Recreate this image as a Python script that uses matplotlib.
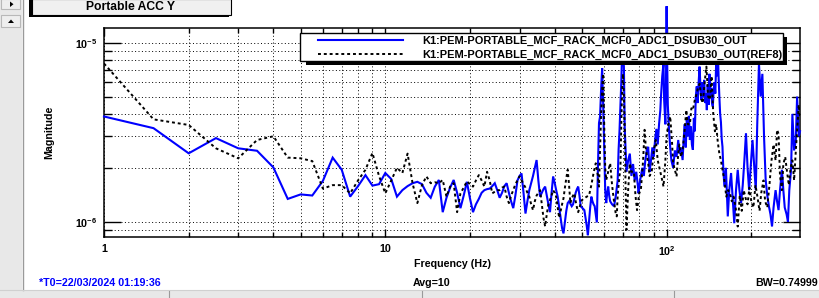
import numpy as np
import matplotlib
matplotlib.use('Agg')
import matplotlib.pyplot as plt
from matplotlib.patches import Rectangle, Polygon
from matplotlib.lines import Line2D
from matplotlib.ticker import FixedLocator, FixedFormatter, NullFormatter

plt.rcParams['font.family'] = ['Liberation Sans', 'DejaVu Sans']
plt.rcParams['font.weight'] = 'bold'
plt.rcParams['mathtext.fontset'] = 'custom'
plt.rcParams['mathtext.rm'] = 'Liberation Sans:bold'
plt.rcParams['mathtext.it'] = 'Liberation Sans:bold'
plt.rcParams['mathtext.bf'] = 'Liberation Sans:bold'

# ---------------- data (magnitudes in units of 1e-6) ----------------
freq_out = [1.0, 1.5, 2.0, 2.5, 3.0, 3.5, 4.0, 4.5, 5.0, 5.5, 6.0, 6.5, 7.0, 7.5, 8.0, 8.5, 9.0, 9.5,
            10.0, 10.5, 11.0, 11.5, 12.0, 12.5, 13.0, 13.5, 14.0, 14.5, 15.0, 15.5, 16.0, 16.5, 17.0,
            17.5, 18.0, 18.5, 19.0, 19.5, 20.0, 20.5, 21.0, 21.5, 22.0, 22.5, 23.0, 23.5, 24.0, 24.5,
            25.0, 25.5, 26.0, 26.5, 27.0, 27.5, 28.0, 28.5, 29.0, 29.5, 30.0, 30.5, 31.0, 31.5, 32.0,
            32.5, 33.0, 33.5, 34.0, 34.5, 35.0, 35.5, 36.0, 36.5, 37.0, 37.5, 38.0, 38.5, 39.0, 39.5,
            40.0, 40.5, 41.0, 41.5, 42.0, 42.5, 43.0, 43.5, 44.0, 44.5, 45.0, 45.5, 46.0, 46.5, 47.0,
            47.5, 48.0, 48.5, 49.0, 49.5, 50.0, 50.5, 51.0, 51.5, 52.0, 52.5, 53.0, 53.5, 54.0, 54.5,
            55.0, 55.5, 56.0, 56.5, 57.0, 57.5, 58.0, 58.5, 59.0, 59.5, 60.0, 60.5, 61.0, 61.5, 62.0,
            62.5, 63.0, 64.0, 65.0, 65.5, 66.0, 67.0, 67.5, 68.0, 69.0, 69.5, 70.0, 70.5, 71.0, 72.0,
            73.0, 74.0, 75.0, 76.0, 77.0, 78.0, 79.0, 79.5, 80.5, 82.0, 83.0, 84.0, 85.0, 86.0, 87.0,
            88.0, 89.0, 90.0, 91.0, 92.0, 93.0, 94.0, 95.0, 95.5, 96.5, 97.5, 98.0, 99.0, 99.5, 100.0,
            100.5, 101.0, 102.0, 103.0, 104.0, 105.5, 107.0, 108.5, 110.0, 111.0, 112.5, 114.0,
            115.0, 116.0, 117.0, 118.0, 119.0, 120.0, 121.0, 122.0, 123.0, 124.0, 125.0, 126.0,
            127.0, 128.0, 129.0, 130.0, 131.0, 132.0, 133.0, 134.0, 135.0, 136.0, 137.0, 138.0,
            139.0, 140.0, 141.0, 142.0, 143.0, 144.0, 145.0, 146.0, 147.0, 148.0, 149.0, 150.0,
            151.0, 152.0, 153.0, 154.0, 155.0, 156.0, 157.0, 158.0, 159.0, 160.5, 162.5, 165.0,
            167.0, 169.5, 172.0, 174.0, 176.5, 179.0, 181.5, 184.0, 186.5, 189.0, 191.5, 194.0,
            196.5, 199.0, 202.0, 205.0, 207.5, 210.0, 213.0, 216.0, 219.0, 222.0, 225.0, 228.0,
            231.0, 234.0, 237.0, 240.0, 244.0, 247.0, 250.0, 253.0, 257.0, 260.0, 263.0, 267.0,
            270.0, 273.0, 277.0, 280.0, 284.0, 288.0, 291.0, 295.0, 298.0]
mag_out = [3.87, 3.33, 2.41, 2.93, 2.57, 2.49, 2.01, 1.34, 1.42, 1.40, 1.69, 2.28, 1.95, 1.38, 1.58, 1.82, 1.59, 1.62,
           1.87, 1.73, 1.38, 1.50, 1.58, 1.64, 1.67, 1.62, 1.45, 1.36, 1.57, 1.71, 1.13, 1.36, 1.55,
           1.71, 1.45, 1.19, 1.40, 1.67, 1.35, 1.13, 1.25, 1.34, 1.45, 1.50, 1.52, 1.53, 1.58, 1.64,
           1.50, 1.36, 1.45, 1.58, 1.64, 1.45, 1.30, 1.19, 1.40, 1.70, 1.80, 1.86, 1.45, 1.11, 1.30,
           1.50, 1.64, 1.80, 2.00, 2.21, 1.70, 1.38, 1.45, 1.52, 1.57, 1.40, 1.25, 1.13, 1.45, 1.79,
           1.65, 1.50, 1.38, 1.20, 1.05, 0.92, 0.86, 1.00, 1.15, 1.27, 1.30, 1.26, 1.22, 1.25, 1.35,
           1.45, 1.52, 1.57, 1.40, 1.22, 1.20, 1.18, 1.16, 1.05, 0.95, 0.84, 1.00, 1.20, 1.38, 1.30,
           1.25, 1.22, 1.10, 0.99, 2.00, 3.56, 3.87, 5.50, 7.20, 4.50, 2.62, 1.50, 1.27, 1.45, 1.57,
           1.40, 1.30, 1.25, 1.22, 1.30, 1.40, 1.70, 2.52, 3.20, 6.00, 9.00, 8.50, 7.35, 3.30, 1.90,
           2.20, 2.40, 1.80, 2.10, 1.70, 1.90, 1.60, 1.44, 1.70, 2.00, 1.80, 2.20, 2.50, 2.62, 1.90,
           2.20, 2.60, 2.30, 2.86, 3.30, 2.70, 3.50, 4.20, 5.00, 6.50, 7.65, 4.80, 3.50, 6.00, 16.0,
           7.65, 4.50, 3.26, 2.60, 2.20, 2.00, 2.50, 2.30, 2.86, 2.40, 2.60, 2.21,
           2.90, 3.50, 2.60, 3.70, 3.00, 3.90, 2.86, 3.40, 2.70, 2.52, 3.80, 3.20,
           5.00, 5.70, 4.60, 6.00, 7.35, 5.50, 4.80, 6.00, 5.00, 6.20, 4.60, 5.20,
           4.20, 5.80, 4.50, 6.70, 5.00, 5.60, 4.60, 4.39, 5.50, 6.00, 5.20, 7.65,
           6.50, 9.50, 6.50, 5.00, 4.00, 3.60, 2.90, 2.62, 2.00, 1.57, 2.00, 1.07,
           1.50, 1.87, 1.30, 0.98, 1.50, 1.95, 1.50, 1.27, 1.60, 2.20, 3.12, 2.00,
           1.50, 2.00, 2.86, 2.00, 1.50, 3.50, 7.65, 5.00, 6.70, 3.00, 1.71, 1.40,
           1.22, 1.10, 0.94, 1.20, 1.50, 1.30, 1.16, 1.50, 1.95, 1.50, 1.20, 1.10,
           1.00, 1.50, 1.95, 4.00, 2.50, 2.86, 5.00, 3.00, 3.20]

freq_ref = [1.0, 1.5, 2.0, 2.5, 3.0, 3.5, 4.0, 4.5, 5.0, 5.5, 6.0, 6.5, 7.0, 7.5, 8.0, 8.5, 9.0, 9.5,
            10.0, 10.5, 11.0, 11.5, 12.0, 12.5, 13.0, 13.5, 14.0, 14.5, 15.0, 15.5, 16.0, 16.5, 17.0,
            17.5, 18.0, 18.5, 19.0, 19.5, 20.0, 20.5, 21.0, 21.5, 22.0, 22.5, 23.0, 23.5, 24.0, 24.5,
            25.0, 25.5, 26.0, 26.5, 27.0, 27.5, 28.0, 28.5, 29.0, 29.5, 30.0, 30.5, 31.0, 31.5, 32.0,
            32.5, 33.0, 33.5, 34.0, 34.5, 35.0, 35.5, 36.0, 36.5, 37.0, 37.5, 38.0, 38.5, 39.0, 39.5,
            40.0, 40.5, 41.0, 41.5, 42.0, 42.5, 43.0, 43.5, 44.0, 44.5, 45.0, 45.5, 46.0, 46.5, 47.0,
            47.5, 48.0, 48.5, 49.0, 50.0, 51.0, 52.0, 53.0, 54.0, 55.0, 56.0, 57.0, 57.5, 58.0, 58.5,
            59.0, 59.5, 60.0, 60.5, 61.0, 62.0, 63.0, 64.0, 65.0, 66.0, 66.5, 67.0, 68.0, 68.5, 69.0,
            69.5, 70.0, 70.5, 71.0, 71.5, 72.0, 73.0, 74.0, 75.0, 76.5, 77.5, 78.5, 80.0, 81.0, 82.5,
            83.5, 84.5, 86.0, 87.0, 88.5, 90.0, 91.5, 93.0, 95.0, 96.5, 97.5, 99.0, 100.0, 101.5,
            103.0, 104.5, 105.5, 107.0, 108.5, 110.0, 111.0, 112.5, 114.0, 116.0, 117.5, 119.0,
            121.0, 122.5, 124.0, 126.0, 127.5, 129.0, 131.0, 133.0, 134.5, 136.5, 138.5, 140.5,
            142.5, 144.5, 146.5, 148.5, 150.0, 152.0, 154.0, 156.0, 158.0, 160.5, 163.0, 165.5,
            168.0, 170.5, 173.0, 176.0, 179.0, 182.0, 185.0, 188.0, 191.0, 194.0, 197.0, 200.0,
            203.5, 207.0, 210.0, 214.0, 217.0, 221.0, 224.0, 228.0, 232.0, 236.0, 240.0, 244.0,
            247.0, 250.0, 253.0, 257.0, 260.0, 264.0, 268.0, 272.0, 276.0, 280.0, 284.0, 288.0,
            292.0, 295.0, 298.0]
mag_ref = [7.65, 3.73, 3.47, 2.57, 2.26, 2.86, 3.00, 2.28, 2.26, 2.18, 1.53, 1.60, 1.60, 1.44, 1.70, 1.95, 2.42, 1.80,
           1.44, 1.70, 2.00, 1.87, 2.40, 1.64, 1.27, 1.60, 1.79, 1.64, 1.66, 1.64, 1.71, 1.38, 1.57,
           1.64, 1.13, 1.44, 1.55, 1.68, 1.62, 1.57, 1.70, 1.82, 1.70, 1.57, 1.90, 1.70, 1.44, 1.47,
           1.50, 1.50, 1.55, 1.57, 1.38, 1.27, 1.40, 1.50, 1.62, 1.70, 1.79, 1.70, 1.62, 1.55, 1.45,
           1.38, 1.25, 1.16, 1.30, 1.40, 1.45, 1.50, 1.25, 1.05, 0.94, 1.10, 1.25, 1.32, 1.40, 1.50,
           1.45, 1.38, 1.20, 1.05, 1.15, 1.25, 1.35, 1.55, 1.75, 1.95, 1.60, 1.27, 1.35, 1.40, 1.44,
           1.30, 1.20, 1.13, 1.20, 1.32, 1.35, 1.38, 1.40, 1.60, 1.87, 2.12, 1.80, 1.57, 2.50, 4.00,
           5.50, 6.70, 3.50, 2.00, 1.71, 1.90, 2.12, 1.60, 1.30, 1.10, 1.07, 1.40, 1.80, 1.95, 3.50,
           5.50, 6.70, 5.00, 3.30, 1.50, 0.90, 1.50, 2.12, 1.90, 1.90, 1.40, 1.16, 1.45, 1.50, 2.20,
           3.26, 2.50, 2.12, 1.80, 1.90, 2.50, 2.86, 2.20, 1.90, 1.70, 1.57, 2.20, 3.05, 3.50,
           3.87, 2.80, 2.12, 1.95, 1.79, 2.40, 2.70, 2.30, 2.50, 3.30, 4.21, 3.50,
           3.50, 4.30, 4.21, 4.80, 5.10, 5.50, 5.90, 4.80, 4.60, 6.00, 7.35, 5.00,
           4.80, 6.50, 4.00, 3.20, 3.50, 2.80, 2.40, 2.20, 1.95, 1.70, 1.38, 1.50,
           1.44, 1.30, 1.38, 1.20, 0.94, 1.40, 1.15, 1.50, 1.35, 1.25, 1.55, 1.30,
           1.20, 1.60, 1.40, 1.15, 1.45, 1.70, 1.30, 1.20, 1.60, 2.20, 2.70, 2.20,
           3.26, 3.10, 1.80, 1.50, 2.10, 2.30, 1.90, 1.60, 2.00, 2.20, 1.70, 2.50,
           3.50, 4.50, 3.80]

x_ticks = [1, 10, 100]
x_tick_labels = ['1', '10', '$10^{2}$']
y_ticks = [1e-6, 1e-5]
y_tick_labels = ['$10^{-6}$', '$10^{-5}$']
legend_labels = ['K1:PEM-PORTABLE_MCF_RACK_MCF0_ADC1_DSUB30_OUT',
                 'K1:PEM-PORTABLE_MCF_RACK_MCF0_ADC1_DSUB30_OUT(REF8)']

# ---------------- figure ----------------
W, H = 819, 298
fig = plt.figure(figsize=(W / 100, H / 100), dpi=100)
fig.patch.set_facecolor('white')


def fx(px):
    return px / W


def fy(py):
    return 1 - py / H


ax = fig.add_axes([fx(104), fy(237), fx(800) - fx(104), fy(27.5) - fy(237)])
ax.set_xscale('log')
ax.set_yscale('log')

blue = '#0000ff'
ax.plot(freq_out, np.array(mag_out) * 1e-6, color=blue, lw=1.5, zorder=3,
        clip_on=False, solid_joinstyle='miter')
ax.plot(freq_ref, np.array(mag_ref) * 1e-6, color='black', lw=1.4, ls=(0, (1.5, 1.5)),
        zorder=4)

ax.set_xlim(1, 298)
ax.set_ylim(8.21e-7, 1.216e-5)

ax.xaxis.set_major_locator(FixedLocator(x_ticks))
ax.xaxis.set_major_formatter(FixedFormatter(x_tick_labels))
xminor = [m * d for d in (1, 10, 100) for m in range(2, 10) if m * d <= 298]
ax.xaxis.set_minor_locator(FixedLocator(xminor))
ax.xaxis.set_minor_formatter(NullFormatter())

ax.yaxis.set_major_locator(FixedLocator(y_ticks))
ax.yaxis.set_major_formatter(FixedFormatter(y_tick_labels))
yminor = [m * d for d in (1e-7, 1e-6, 1e-5) for m in range(2, 10)]
ax.yaxis.set_minor_locator(FixedLocator(yminor))
ax.yaxis.set_minor_formatter(NullFormatter())

ax.grid(True, which='both', color='black', lw=0.7, ls=(0, (1, 2.5)))
ax.set_axisbelow(True)

ax.tick_params(axis='both', which='both', direction='in', top=True, right=True,
               colors='black', width=1.0, labelsize=7.7)
ax.tick_params(axis='y', which='major', length=12, pad=5)
ax.tick_params(axis='y', which='minor', length=5.5)
ax.tick_params(axis='x', which='major', length=6, pad=5)
ax.tick_params(axis='x', which='minor', length=3.8)
for lab in ax.get_xticklabels() + ax.get_yticklabels():
    lab.set_fontweight('bold')
for sp in ax.spines.values():
    sp.set_linewidth(1.1)
    sp.set_color('black')

ax.set_xlabel('Frequency (Hz)', fontsize=7.7, fontweight='bold')
ax.xaxis.set_label_coords(0.5, -0.105)
ax.set_ylabel('Magnitude', fontsize=7.7, fontweight='bold')
ax.yaxis.set_label_coords(-0.072, 0.5)

# ---------------- legend (ROOT style box with shadow) ----------------
fig.add_artist(Rectangle((fx(306), fy(65)), fx(787) - fx(306), fy(37) - fy(65),
                         transform=fig.transFigure, facecolor='black', edgecolor='none', zorder=5))
fig.add_artist(Rectangle((fx(300), fy(61)), fx(783) - fx(300), fy(33) - fy(61),
                         transform=fig.transFigure, facecolor='white', edgecolor='black',
                         lw=1.0, zorder=6))
fig.add_artist(Line2D([fx(318), fx(403)], [fy(40), fy(40)], transform=fig.transFigure,
                      color=blue, lw=1.5, zorder=7))
fig.add_artist(Line2D([fx(318), fx(403)], [fy(54), fy(54)], transform=fig.transFigure,
                      color='black', lw=1.4, ls=(0, (1.5, 1.5)), zorder=7))
fig.text(fx(422), fy(40.5), legend_labels[0], fontsize=7.9, fontweight='bold',
         va='center', ha='left', zorder=8)
fig.text(fx(422), fy(54.5), legend_labels[1], fontsize=7.9, fontweight='bold',
         va='center', ha='left', zorder=8)

# ---------------- window chrome ----------------
gray = '#e8e8e8'
fig.add_artist(Rectangle((0, 0), fx(22), 1, transform=fig.transFigure,
                         facecolor=gray, edgecolor='none', zorder=1))
fig.add_artist(Line2D([fx(22.5), fx(22.5)], [fy(290), 1], transform=fig.transFigure,
                      color='#9a9a9a', lw=1.0, zorder=2))
fig.add_artist(Rectangle((0, 0), 1, fy(290), transform=fig.transFigure,
                         facecolor=gray, edgecolor='none', zorder=1))
fig.add_artist(Line2D([0, 1], [fy(290), fy(290)], transform=fig.transFigure,
                      color='#d0d0d0', lw=0.8, zorder=2))
for xd in (169, 422, 674):
    fig.add_artist(Line2D([fx(xd), fx(xd)], [0, fy(291)], transform=fig.transFigure,
                          color='#9a9a9a', lw=0.8, zorder=2))
# buttons
for (y0, y1) in ((-1, 9), (15, 27)):
    fig.add_artist(Rectangle((fx(1), fy(y1)), fx(20) - fx(1), fy(y0) - fy(y1),
                             transform=fig.transFigure, facecolor='#eeeeee',
                             edgecolor='#b8b8b8', lw=0.8, zorder=2))
fig.add_artist(Polygon([[fx(10), fy(1.5)], [fx(10), fy(7)], [fx(13.5), fy(4.2)]], closed=True,
                       transform=fig.transFigure, facecolor='black', edgecolor='none', zorder=3))
fig.add_artist(Polygon([[fx(8), fy(23)], [fx(14), fy(23)], [fx(11), fy(19.5)]], closed=True,
                       transform=fig.transFigure, facecolor='black', edgecolor='none', zorder=3))

# title pave
fig.add_artist(Rectangle((fx(29.5), fy(17)), fx(229) - fx(29.5), fy(0) - fy(17),
                         transform=fig.transFigure, facecolor='black', edgecolor='none', zorder=2))
fig.add_artist(Rectangle((fx(32), fy(14.5)), fx(231) - fx(32), fy(-1) - fy(14.5),
                         transform=fig.transFigure, facecolor='#f0f0f0', edgecolor='black',
                         lw=0.8, zorder=3))
fig.text(fx(131), fy(7.5), 'Portable ACC Y', fontsize=8.7, fontweight='bold',
         ha='center', va='center', zorder=4)

# footer texts
fig.text(fx(39), fy(283), '*T0=22/03/2024 01:19:36', fontsize=7.7, fontweight='bold',
         color=blue, ha='left', va='center')
fig.text(fx(413), fy(283), 'Avg=10', fontsize=7.7, fontweight='bold', ha='left', va='center')
fig.text(fx(818), fy(283), 'BW=0.74999', fontsize=7.7, fontweight='bold', ha='right', va='center')

fig.savefig('out.png', dpi=100, facecolor='white')
